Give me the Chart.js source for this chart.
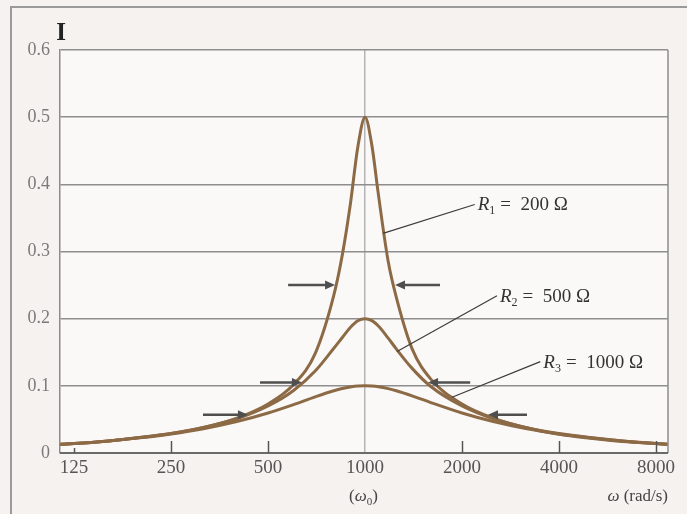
<!DOCTYPE html>
<html>
<head>
<meta charset="utf-8">
<script src="https://cdn.jsdelivr.net/npm/chart.js@4/dist/chart.umd.min.js"></script>
<style>
html,body{margin:0;padding:0;background:#f6f2ef;}
#wrap{width:687px;height:514px;}
</style>
</head>
<body>
<div id="wrap"><canvas id="c" width="687" height="514"></canvas></div>
<script>
// angular frequency samples (rad/s)
const omega = [113,125,160,200,250,315,400,500,600,700,800,850,900,950,1000,1050,1100,1180,1250,1400,1600,2000,2500,3150,4000,5000,6300,8000,8718];
// current I (A)
const iR1 = [0.013,0.014,0.018,0.023,0.029,0.038,0.052,0.073,0.102,0.148,0.235,0.295,0.37,0.456,0.5,0.458,0.385,0.285,0.232,0.155,0.11,0.073,0.052,0.038,0.028,0.022,0.017,0.014,0.013];
const iR2 = [0.013,0.014,0.018,0.023,0.029,0.038,0.051,0.07,0.093,0.122,0.156,0.172,0.187,0.197,0.2,0.197,0.189,0.171,0.155,0.126,0.099,0.07,0.051,0.038,0.029,0.023,0.018,0.014,0.013];
const iR3 = [0.0126,0.014,0.018,0.0226,0.0284,0.0362,0.0468,0.0595,0.0721,0.0836,0.0927,0.096,0.0982,0.0996,0.1,0.0996,0.0986,0.0958,0.0927,0.0851,0.0751,0.0595,0.0468,0.0365,0.0284,0.0226,0.0178,0.014,0.0128];
const seriesNames = ['R1 = 200 Ω','R2 = 500 Ω','R3 = 1000 Ω'];
const resistanceSub = ['1','2','3'];
const resistanceText = ['=  200 Ω','=  500 Ω','=  1000 Ω'];
// axis ticks
const xTicks = [125,250,500,1000,2000,4000,8000];
const yTicks = [0,0.1,0.2,0.3,0.4,0.5,0.6];
// half-maximum width markers: level, left arrow [from, tip], right arrow [from, tip]
const arrowLevels = [0.25,0.105,0.057];
const arrowLeft = [[577,807],[472,637],[314,433]];
const arrowRight = [[1709,1239],[2120,1569],[3182,2408]];
// leader lines: [omega, I] on curve -> [omega, I] at label
const leaderFrom = [[1137,0.327],[1257,0.151],[1862,0.083]];
const leaderTo = [[2190,0.37],[2568,0.234],[3500,0.136]];

const toPts = arr => omega.map((w,i)=>({x:w,y:arr[i]}));
const curveColor = '#8d6a46';
const serif = "'Liberation Serif','DejaVu Serif',serif";

const decor = {
  id:'decor',
  beforeDraw(chart){
    const ctx = chart.ctx, a = chart.chartArea;
    ctx.save();
    ctx.fillStyle = '#f6f2ef';
    ctx.fillRect(0,0,chart.width,chart.height);
    ctx.fillStyle = '#fbf9f7';
    ctx.fillRect(a.left,a.top,a.right-a.left,a.bottom-a.top);
    ctx.strokeStyle = '#9a9a9a';
    ctx.lineWidth = 2;
    ctx.beginPath();
    ctx.moveTo(11,chart.height); ctx.lineTo(11,7); ctx.lineTo(chart.width,7);
    ctx.stroke();
    ctx.restore();
  },
  afterDatasetsDraw(chart){
    const ctx = chart.ctx, a = chart.chartArea;
    const xs = chart.scales.x, ys = chart.scales.y;
    ctx.save();
    ctx.strokeStyle = '#8c8c8c';
    ctx.lineWidth = 1.5;
    ctx.beginPath();
    ctx.moveTo(a.right,a.top); ctx.lineTo(a.right,a.bottom);
    ctx.stroke();
    ctx.strokeStyle = '#6a6a6a';
    ctx.lineWidth = 2;
    ctx.beginPath();
    ctx.moveTo(a.left,ys.getPixelForValue(0)); ctx.lineTo(a.right,ys.getPixelForValue(0));
    ctx.stroke();
    ctx.strokeStyle = '#555';
    ctx.lineWidth = 1.5;
    xTicks.forEach(v=>{
      if (v===1000) return;
      const px = Math.round(xs.getPixelForValue(v))+0.5;
      ctx.beginPath();
      ctx.moveTo(px,a.bottom); ctx.lineTo(px,a.bottom-(v===125?5:12));
      ctx.stroke();
    });
    const arrow = (fromW,tipW,lvl)=>{
      const y = ys.getPixelForValue(lvl);
      const x0 = xs.getPixelForValue(fromW), x1 = xs.getPixelForValue(tipW);
      const dir = Math.sign(x1-x0);
      ctx.strokeStyle = '#4f4f4f';
      ctx.fillStyle = '#4f4f4f';
      ctx.lineWidth = 2.5;
      ctx.beginPath();
      ctx.moveTo(x0,y); ctx.lineTo(x1-dir*6,y);
      ctx.stroke();
      ctx.beginPath();
      ctx.moveTo(x1,y); ctx.lineTo(x1-dir*10,y-4.5); ctx.lineTo(x1-dir*10,y+4.5);
      ctx.closePath(); ctx.fill();
    };
    arrowLevels.forEach((lvl,i)=>{
      arrow(arrowLeft[i][0],arrowLeft[i][1],lvl);
      arrow(arrowRight[i][0],arrowRight[i][1],lvl);
    });
    leaderFrom.forEach((p,i)=>{
      const x0 = xs.getPixelForValue(p[0]), y0 = ys.getPixelForValue(p[1]);
      const x1 = xs.getPixelForValue(leaderTo[i][0]), y1 = ys.getPixelForValue(leaderTo[i][1]);
      ctx.strokeStyle = '#3c3c3c';
      ctx.lineWidth = 1.2;
      ctx.beginPath(); ctx.moveTo(x0,y0); ctx.lineTo(x1,y1); ctx.stroke();
      let tx = x1+3;
      const ty = y1+6;
      ctx.fillStyle = '#333';
      ctx.textBaseline = 'alphabetic';
      ctx.textAlign = 'left';
      ctx.font = 'italic 19px '+serif;
      ctx.fillText('R',tx,ty); tx += ctx.measureText('R').width;
      ctx.font = '12px '+serif;
      ctx.fillText(resistanceSub[i],tx,ty+4); tx += ctx.measureText(resistanceSub[i]).width+5;
      ctx.font = '19px '+serif;
      ctx.fillText(resistanceText[i],tx,ty);
    });
    ctx.fillStyle = '#222';
    ctx.font = 'bold 25px '+serif;
    ctx.textAlign = 'center';
    ctx.fillText('I',a.left+1,40);
    ctx.fillStyle = '#444';
    const cx = xs.getPixelForValue(1000);
    ctx.textAlign = 'left';
    let tx = cx-16; const ty = 501;
    ctx.font = '17px '+serif; ctx.fillText('(',tx,ty); tx += ctx.measureText('(').width;
    ctx.font = 'italic 17px '+serif; ctx.fillText('ω',tx,ty); tx += ctx.measureText('ω').width;
    ctx.font = '11px '+serif; ctx.fillText('0',tx,ty+4); tx += ctx.measureText('0').width;
    ctx.font = '17px '+serif; ctx.fillText(')',tx,ty);
    ctx.font = '17px '+serif;
    const rs = ' (rad/s)';
    const rw = ctx.measureText(rs).width;
    ctx.textAlign = 'right';
    ctx.fillText(rs,a.right,ty);
    ctx.font = 'italic 17px '+serif;
    ctx.fillText('ω',a.right-rw,ty);
    ctx.restore();
  }
};

new Chart(document.getElementById('c'),{
  type:'line',
  data:{
    datasets:[
      {label:seriesNames[0],data:toPts(iR1)},
      {label:seriesNames[1],data:toPts(iR2)},
      {label:seriesNames[2],data:toPts(iR3)}
    ].map(d=>Object.assign(d,{borderColor:curveColor,borderWidth:3,pointRadius:0,cubicInterpolationMode:'monotone',fill:false}))
  },
  options:{
    responsive:false,
    animation:false,
    layout:{padding:{left:0,top:50,right:19,bottom:0}},
    plugins:{legend:{display:false},tooltip:{enabled:false}},
    scales:{
      x:{
        type:'logarithmic',min:113,max:8718,
        afterBuildTicks:s=>{s.ticks = xTicks.map(v=>({value:v}));},
        afterFit:s=>{s.height=61;},
        ticks:{autoSkip:false,maxRotation:0,padding:4,color:'#555',font:{family:serif,size:19},callback:v=>String(v)},
        grid:{drawTicks:false,lineWidth:1.5,color:c=>(c.tick && c.tick.value===1000)?'#b5b5b5':'rgba(0,0,0,0)'},
        border:{display:false}
      },
      y:{
        min:0,max:0.6,
        afterBuildTicks:s=>{s.ticks = yTicks.map(v=>({value:v}));},
        afterFit:s=>{s.width=60;},
        ticks:{padding:10,color:'#7a7a7a',font:{family:serif,size:18},callback:v=>v===0?'0':Number(v).toFixed(1)},
        grid:{drawTicks:false,lineWidth:1.5,color:'#8e8e8e'},
        border:{display:true,color:'#8c8c8c',width:1.5}
      }
    }
  },
  plugins:[decor]
});
</script>
</body>
</html>
